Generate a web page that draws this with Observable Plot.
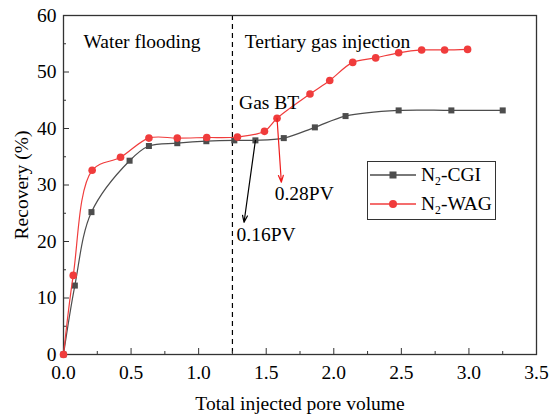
<!DOCTYPE html>
<html>
<head>
<meta charset="utf-8">
<script src="https://cdn.jsdelivr.net/npm/d3@7"></script>
<script src="https://cdn.jsdelivr.net/npm/@observablehq/plot@0.6"></script>
<style>
  html, body { margin: 0; padding: 0; background: white; }
  #wrap { position: relative; width: 554px; height: 415px; font-family: "Liberation Serif", "Times New Roman", serif; }
  #chart svg, #chart svg text { font-family: "Liberation Serif", "Times New Roman", serif !important; }
  #legend { position: absolute; left: 367px; top: 161px; width: 129px; height: 59px; border: 1px solid #333; background: white; box-sizing: border-box; }
  .row { position: absolute; left: 2px; height: 24px; display: flex; align-items: center; font-size: 19.5px; color: #000; }
  .row svg { margin-right: 5px; }
  sub { font-size: 0.6em; vertical-align: -0.35em; line-height: 0; }
</style>
</head>
<body>
<div id="wrap"><div id="chart"></div><div id="legend"></div></div>
<script>
// Data
const cgiX = [0, 0.084, 0.207, 0.489, 0.632, 0.842, 1.057, 1.264, 1.42, 1.63, 1.86, 2.087, 2.48, 2.87, 3.25];
const cgiY = [0, 12.2, 25.2, 34.3, 36.9, 37.4, 37.75, 37.9, 37.9, 38.3, 40.2, 42.2, 43.2, 43.2, 43.2];
const wagX = [0, 0.072, 0.212, 0.422, 0.632, 0.842, 1.06, 1.287, 1.487, 1.58, 1.824, 1.97, 2.14, 2.31, 2.48, 2.65, 2.82, 2.99];
const wagY = [0, 14.0, 32.6, 34.9, 38.3, 38.3, 38.4, 38.5, 39.5, 41.8, 46.1, 48.5, 51.7, 52.5, 53.4, 53.9, 53.9, 54.0];
const seriesNames = ["N2-CGI", "N2-WAG"];
const xTicks = [0, 0.5, 1.0, 1.5, 2.0, 2.5, 3.0, 3.5];
const xMinor = [0.25, 0.75, 1.25, 1.75, 2.25, 2.75, 3.25];
const yTicks = [0, 10, 20, 30, 40, 50, 60];
const yMinor = [5, 15, 25, 35, 45, 55];
const stageBoundary = [1.25];
const stageLabels = [
  {x: 0.148, y: 54.3, text: "Water flooding"},
  {x: 1.341, y: 54.3, text: "Tertiary gas injection"}
];
const notes = [
  {x: 1.299, y: 43.5, text: "Gas BT"},
  {x: 1.563, y: 27.4, text: "0.28PV"},
  {x: 1.281, y: 20.05, text: "0.16PV"}
];
const arrows = [
  {x1: 1.42, y1: 37.9, x2: 1.336, y2: 23.4, color: "#000"},
  {x1: 1.58, y1: 41.8, x2: 1.612, y2: 30.5, color: "#ee1c1c"}
];

const cgi = cgiX.map((x, i) => ({x, y: cgiY[i]}));
const wag = wagX.map((x, i) => ({x, y: wagY[i]}));

const gray = "#4d4d4d", red = "#f03c3c";
const serif = "'Liberation Serif', 'Times New Roman', serif";

const chart = Plot.plot({
  width: 554, height: 415,
  marginLeft: 63, marginRight: 18, marginTop: 15, marginBottom: 61,
  style: {fontFamily: serif, fontSize: "19.5px", background: "white", color: "#000", overflow: "visible"},
  x: {domain: [0, 3.5]},
  y: {domain: [0, 60]},
  marks: [
    Plot.ruleX(stageBoundary, {stroke: "#000", strokeWidth: 1.2, strokeDasharray: "5,4"}),
    Plot.axisX({ticks: xTicks, tickSize: 0, tickPadding: 10.5, tickFormat: d3.format(".1f"), fontSize: 19.5, fontFamily: serif, label: "Total injected pore volume", labelAnchor: "center", labelArrow: "none", labelOffset: 55}),
    Plot.axisX({ticks: xTicks, tickSize: -6, tickFormat: () => "", label: null, stroke: "#333"}),
    Plot.axisX({ticks: xMinor, tickSize: -3, tickFormat: () => "", label: null, stroke: "#333"}),
    Plot.axisY({ticks: yTicks, tickSize: 0, tickPadding: 7, tickFormat: d3.format("d"), fontSize: 19.5, fontFamily: serif, label: "Recovery (%)", labelAnchor: "center", labelArrow: "none", labelOffset: 49}),
    Plot.axisY({ticks: yTicks, tickSize: -6, tickFormat: () => "", label: null, stroke: "#333"}),
    Plot.axisY({ticks: yMinor, tickSize: -3, tickFormat: () => "", label: null, stroke: "#333"}),
    Plot.frame({stroke: "#333", strokeWidth: 1.3}),
    Plot.line(cgi, {x: "x", y: "y", stroke: gray, strokeWidth: 1.2, curve: "catmull-rom"}),
    Plot.dot(cgi, {x: "x", y: "y", symbol: "square", r: 3.4, fill: gray, stroke: "none"}),
    Plot.line(wag, {x: "x", y: "y", stroke: red, strokeWidth: 1.2, curve: "catmull-rom"}),
    Plot.dot(wag, {x: "x", y: "y", symbol: "circle", r: 3.8, fill: red, stroke: "none"}),
    Plot.arrow(arrows, {x1: "x1", y1: "y1", x2: "x2", y2: "y2", stroke: "color", strokeWidth: 1.2, headLength: 9, headAngle: 40, bend: 0}),
    Plot.text(stageLabels, {x: "x", y: "y", text: "text", textAnchor: "start", lineAnchor: "bottom", fontSize: 19.5, fontFamily: serif, fill: "#000"}),
    Plot.text(notes, {x: "x", y: "y", text: "text", textAnchor: "start", lineAnchor: "bottom", fontSize: 19.5, fontFamily: serif, fill: "#000"})
  ]
});
document.getElementById("chart").appendChild(chart);

// Legend (HTML overlay)
const legend = document.getElementById("legend");
const legendItems = [
  {name: seriesNames[0], color: gray, shape: "square", top: 1},
  {name: seriesNames[1], color: red, shape: "circle", top: 30}
];
for (const item of legendItems) {
  const row = document.createElement("div");
  row.className = "row";
  row.style.top = item.top + "px";
  const marker = item.shape === "square"
    ? `<rect x="19.5" y="8.5" width="7" height="7" fill="${item.color}"/>`
    : `<circle cx="23" cy="12" r="4" fill="${item.color}"/>`;
  row.innerHTML = `<svg width="46" height="24"><line x1="0" x2="46" y1="12" y2="12" stroke="${item.color}" stroke-width="1.3"/>${marker}</svg>` +
    `<span>${item.name.replace("2", "<sub>2</sub>")}</span>`;
  legend.appendChild(row);
}
</script>
</body>
</html>
